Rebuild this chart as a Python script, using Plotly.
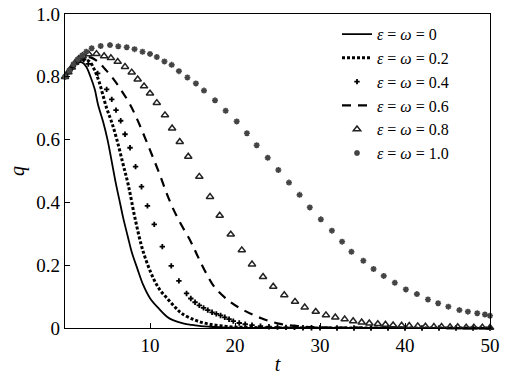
import plotly.graph_objects as go

# eps = omega = 0 (solid)
t0 = [0, 0.5, 1, 1.5, 2, 2.5, 3, 3.5, 3.9, 4.5, 5, 5.5, 6, 6.5, 6.86, 7.4, 7.84, 8.5, 9.2, 10, 11, 12,
      12.7, 14, 14.9, 16, 17, 18.5, 20, 22.5, 25, 30, 35, 40, 45, 50]
q0 = [0.80, 0.82, 0.835, 0.845, 0.846, 0.832, 0.80, 0.76, 0.71, 0.655, 0.60, 0.53, 0.458, 0.395, 0.349,
      0.29, 0.243, 0.19, 0.137, 0.095, 0.063, 0.036, 0.025, 0.014, 0.010, 0.006, 0.004, 0.002, 0.001,
      0.0005, 0, 0, 0, 0, 0, 0]

# eps = omega = 0.2 (dotted)
t2 = [0, 0.5, 1, 1.5, 2, 2.5, 3, 3.5, 4, 4.9, 5.5, 6.1, 6.8, 7.45, 8.24, 9.2, 10.4, 11.2, 12, 13, 13.7,
      15.3, 17, 19, 21, 23, 25, 30, 35, 40, 45, 50]
q2 = [0.80, 0.82, 0.836, 0.848, 0.855, 0.855, 0.845, 0.82, 0.785, 0.70, 0.655, 0.60, 0.525, 0.455, 0.349,
      0.243, 0.158, 0.12, 0.095, 0.065, 0.047, 0.025, 0.012, 0.005, 0.002, 0.001, 0, 0, 0, 0, 0, 0]

# eps = omega = 0.4 (plus markers)
t4 = [0, 0.3, 0.6, 0.9, 1.2, 1.5, 1.8, 2.2, 2.74, 3.84, 4.9, 5.5, 6.0, 6.55, 7.06, 7.65, 8.3, 9.0, 9.7,
      10.5, 11.45, 12.5, 13.4, 14.3, 14.8, 15.3, 15.8, 16.3, 16.8, 17.3, 17.8, 18.3, 18.8, 19.3, 19.8,
      20.5, 21.2, 22, 23, 24, 25, 26, 27, 28, 29, 30, 32, 34, 36, 38, 40, 42, 44, 46, 48, 50]
q4 = [0.80, 0.81, 0.82, 0.83, 0.84, 0.848, 0.853, 0.855, 0.841, 0.811, 0.760, 0.728, 0.694, 0.660, 0.617,
      0.574, 0.514, 0.450, 0.389, 0.330, 0.259, 0.198, 0.150, 0.110, 0.094, 0.082, 0.072, 0.064, 0.057,
      0.050, 0.045, 0.040, 0.034, 0.028, 0.022, 0.016, 0.012, 0.009, 0.006, 0.004, 0.003, 0.002, 0.002,
      0.001, 0.001, 0.001, 0, 0, 0, 0, 0, 0, 0, 0, 0, 0]

# eps = omega = 0.6 (dashed)
t6 = [0, 0.5, 1, 1.5, 2, 2.5, 3, 3.9, 4.7, 5.5, 6.6, 7.65, 8.6, 9.5, 10.4, 11.2, 11.9, 12.7, 13.7, 14.8,
      15.5, 16.5, 17.6, 19.4, 21, 23.1, 25.3, 27.4, 30, 35, 40, 45, 50]
q6 = [0.80, 0.82, 0.835, 0.848, 0.857, 0.862, 0.862, 0.848, 0.825, 0.80, 0.758, 0.712, 0.658, 0.60, 0.54,
      0.485, 0.433, 0.381, 0.328, 0.275, 0.235, 0.18, 0.13, 0.084, 0.057, 0.031, 0.013, 0.006, 0.002,
      0.001, 0, 0, 0]

# eps = omega = 0.8 (open triangles)
t8 = [0, 0.4, 0.8, 1.2, 1.6, 2.08, 2.8, 3.7, 4.6, 5.4, 6.2, 7.06, 7.85, 8.55, 9.3, 10.0, 10.8, 11.76, 12.6,
      13.5, 14.5, 15.8, 17.06, 18.2, 19.5, 20.8, 22.0, 23.3, 24.5, 25.8, 27.06, 28.2, 29.5, 30.7, 31.8,
      32.9, 33.9, 34.9, 35.8, 36.8, 37.7, 38.6, 39.6, 40.5, 41.5, 42.4, 43.4, 44.3, 45.3, 46.2, 47.2,
      48.1, 49.1, 50]
q8 = [0.80, 0.815, 0.83, 0.845, 0.857, 0.866, 0.872, 0.873, 0.866, 0.86, 0.848, 0.832, 0.814, 0.792, 0.77,
      0.747, 0.717, 0.678, 0.636, 0.593, 0.546, 0.482, 0.418, 0.358, 0.298, 0.248, 0.203, 0.163, 0.132,
      0.105, 0.084, 0.066, 0.052, 0.041, 0.034, 0.028, 0.022, 0.018, 0.015, 0.013, 0.011, 0.009, 0.008,
      0.007, 0.006, 0.005, 0.004, 0.004, 0.003, 0.003, 0.002, 0.002, 0.002, 0.001]

# eps = omega = 1.0 (grey asterisks)
t10 = [0, 0.5, 1.0, 1.5, 2.0, 2.5, 3.14, 4.2, 5.29, 6.27, 7.26, 8.18, 9.12, 10.0, 10.8, 11.7, 12.55, 13.4,
       14.4, 15.4, 16.35, 17.65, 18.9, 20.2, 21.4, 22.55, 23.85, 25.1, 26.35, 27.6, 28.8, 30.1, 31.4, 32.6,
       33.7, 35.1, 36.3, 37.5, 38.8, 40.1, 41.4, 42.7, 43.9, 45.1, 46.4, 47.4, 48.5, 49.4, 50]
q10 = [0.80, 0.82, 0.84, 0.856, 0.868, 0.88, 0.891, 0.898, 0.901, 0.897, 0.894, 0.888, 0.880, 0.873, 0.863,
       0.849, 0.838, 0.818, 0.798, 0.779, 0.756, 0.725, 0.692, 0.658, 0.620, 0.582, 0.542, 0.503, 0.463,
       0.424, 0.384, 0.346, 0.310, 0.275, 0.243, 0.214, 0.188, 0.166, 0.144, 0.123, 0.108, 0.091, 0.079,
       0.068, 0.057, 0.052, 0.047, 0.043, 0.039]

names = ["0", "0.2", "0.4", "0.6", "0.8", "1.0"]
x_ticks = [10, 20, 30, 40, 50]
y_ticks = [0, 0.2, 0.4, 0.6, 0.8, 1.0]
y_ticktext = ["0", "0.2", "0.4", "0.6", "0.8", "1.0"]

FONT = "Liberation Serif"


def label(v):
    return "<i>ε</i> = <i>ω</i> = " + v


fig = go.Figure()
fig.add_trace(go.Scatter(x=t0, y=q0, mode="lines", name=label(names[0]),
                         line=dict(color="black", width=1.8, shape="spline"), cliponaxis=False))
fig.add_trace(go.Scatter(x=t2, y=q2, mode="lines", name=label(names[1]),
                         line=dict(color="black", width=3, dash="3px,2px", shape="spline"), cliponaxis=False))
fig.add_trace(go.Scatter(x=t4, y=q4, mode="markers", name=label(names[2]),
                         marker=dict(symbol="cross", size=4.5, color="black"), cliponaxis=False))
fig.add_trace(go.Scatter(x=t6, y=q6, mode="lines", name=label(names[3]),
                         line=dict(color="black", width=2.2, dash="9px,7px", shape="spline"), cliponaxis=False))
fig.add_trace(go.Scatter(x=t8, y=q8, mode="markers", name=label(names[4]),
                         marker=dict(symbol="triangle-up-open", size=6.5, color="#222",
                                     line=dict(width=1.5, color="#222")), cliponaxis=False))
fig.add_trace(go.Scatter(x=t10, y=q10, mode="markers", name=label(names[5]),
                         marker=dict(symbol="asterisk-open", size=5, color="#444",
                                     line=dict(width=1.6, color="#444")), cliponaxis=False))

axis_common = dict(showline=True, linecolor="black", linewidth=1.2, mirror=True, ticks="inside",
                   ticklen=5, tickwidth=1, tickcolor="black", showgrid=False, zeroline=False,
                   automargin=False, ticklabeloverflow="allow",
                   tickfont=dict(family=FONT, size=19, color="black"))

fig.update_xaxes(range=[0, 50], tickvals=x_ticks, ticktext=[str(v) for v in x_ticks],
                 title=dict(text="<i>t</i>", font=dict(family=FONT, size=20, color="black"), standoff=2),
                 **axis_common)
fig.update_yaxes(range=[0, 1.0], tickvals=y_ticks, ticktext=y_ticktext,
                 title=dict(text="<i>q</i>", font=dict(family=FONT, size=20, color="black"), standoff=6),
                 **axis_common)

fig.update_layout(
    template="none",
    width=508, height=380,
    margin=dict(l=65, r=18, t=14, b=52, autoexpand=False),
    paper_bgcolor="white", plot_bgcolor="white",
    font=dict(family=FONT, color="black"),
    showlegend=True,
    hovermode=False,
    legend=dict(x=0.64, y=0.99, xanchor="left", yanchor="top", bgcolor="rgba(0,0,0,0)",
                font=dict(family=FONT, size=16, color="black"), itemwidth=30,
                tracegroupgap=0),
)

# remove the default 8px page margin so the 508x380 figure fills the window exactly
fig.write_html("out.html", config={"displayModeBar": False, "staticPlot": True},
               post_script="document.body.style.margin='0';document.body.style.overflow='hidden';")
